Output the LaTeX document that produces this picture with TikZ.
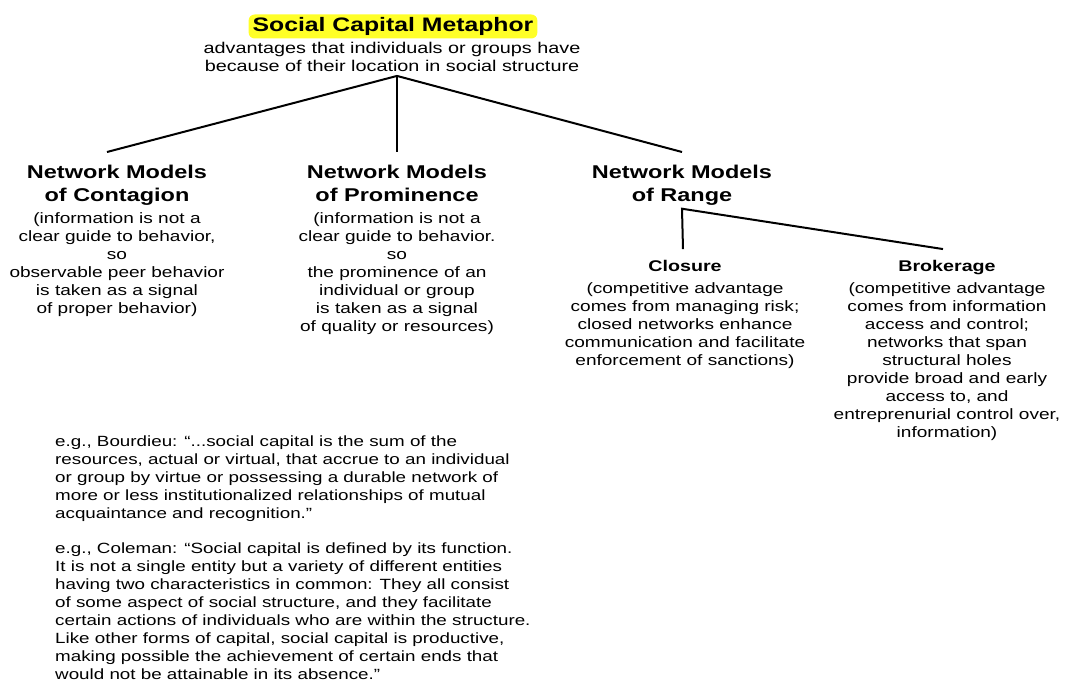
\documentclass[tikz,border=0pt]{standalone}
\usepackage{fontspec}
\setmainfont[FakeStretch=1.27]{Liberation Sans}
\definecolor{marker}{RGB}{255,255,40}

\tikzset{
  txt/.style={align=center, anchor=north, inner sep=0pt, font=\fontsize{15}{18}\selectfont},
  head/.style={align=center, anchor=north, inner sep=0pt, font=\bfseries\fontsize{18.5}{23}\selectfont},
  subhead/.style={anchor=base, inner sep=0pt, font=\bfseries\fontsize{15.5}{18}\selectfont},
  quote/.style={align=left, anchor=west, inner sep=0pt, font=\fontsize{14.8}{18}\selectfont},
  branch/.style={line width=2pt}
}

\begin{document}
\begin{tikzpicture}[x=1pt,y=-1pt]
    \useasboundingbox (0,0) rectangle (1069,684);

    % top of the tree
    \node[fill=marker, rounded corners=6pt, inner xsep=4pt, inner ysep=0pt, minimum height=24pt,
          font=\bfseries\fontsize{19.5}{23}\selectfont] (metaphor) at (393,26.5) {Social Capital Metaphor};
    \node[txt, anchor=center, font=\fontsize{15.6}{18}\selectfont] (gloss) at (392,57) {advantages that individuals or groups have\\because of their location in social structure};

    % three kinds of models
    \node[head] (contagion) at (117,165) {Network Models\\of Contagion};
    \node[txt] (contagiontxt) at (117,212) {(information is not a\\clear guide to behavior,\\so\\observable peer behavior\\is taken as a signal\\of proper behavior)};

    \node[head] (prominence) at (397,165) {Network Models\\of Prominence};
    \node[txt] (prominencetxt) at (397,212.5) {(information is not a\\clear guide to behavior.\\so\\the prominence of an\\individual or group\\is taken as a signal\\of quality or resources)};

    \node[head] (range) at (682,165) {Network Models\\of Range};

    % two kinds of range
    \node[subhead] (closure) at (685,271.5) {Closure};
    \node[txt] (closuretxt) at (685,282) {(competitive advantage\\comes from managing risk;\\closed networks enhance\\communication and facilitate\\enforcement of sanctions)};

    \node[subhead] (brokerage) at (947,271.5) {Brokerage};
    \node[txt] (brokeragetxt) at (947,282) {(competitive advantage\\comes from information\\access and control;\\networks that span\\structural holes\\provide broad and early\\access to, and\\entreprenurial control over,\\information)};

    \coordinate (fork) at ([yshift=-4pt]prominence.north |- gloss.south);
    \draw [branch] (fork) -- ([xshift=-10pt,yshift=13pt]contagion.north);
    \draw [branch] (fork) -- ([yshift=13pt]prominence.north);
    \draw [branch] (fork) -- ([yshift=13pt]range.north);

    \coordinate (split) at ([yshift=-3pt]range.south);
    \draw [branch] ([xshift=-2pt,yshift=11pt]closure.north) -- (split) -- ([xshift=-4pt,yshift=11pt]brokerage.north);

    % the two definitions
    \node[quote] (bourdieu) at (55,479) {e.g., Bourdieu: “...social capital is the sum of the\\resources, actual or virtual, that accrue to an individual\\or group by virtue or possessing a durable network of\\more or less institutionalized relationships of mutual\\acquaintance and recognition.”};
    \node[quote] (coleman) at (55,611.5) {e.g., Coleman: “Social capital is defined by its function.\\It is not a single entity but a variety of different entities\\having two characteristics in common: They all consist\\of some aspect of social structure, and they facilitate\\certain actions of individuals who are within the structure.\\Like other forms of capital, social capital is productive,\\making possible the achievement of certain ends that\\would not be attainable in its absence.”};

\end{tikzpicture}
\end{document}
